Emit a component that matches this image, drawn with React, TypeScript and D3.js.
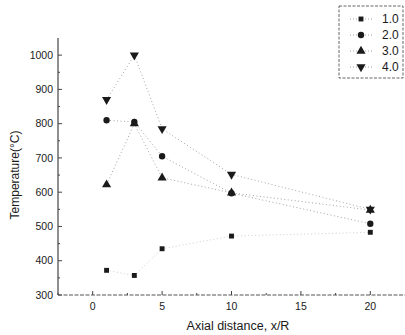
import React from "react";
import * as d3 from "d3";

// Axial distance positions (x/R)
const distances = [1, 3, 5, 10, 20];

// Temperature readings per series (°C)
const series10 = [372, 357, 435, 472, 483];
const series20 = [810, 805, 705, 597, 508];
const series30 = [622, 800, 642, 598, 548];
const series40 = [870, 1000, 785, 652, 550];

const seriesNames = ["1.0", "2.0", "3.0", "4.0"];
const seriesValues = [series10, series20, series30, series40];
const symbolTypes = [d3.symbolSquare, d3.symbolCircle, d3.symbolTriangle, d3.symbolTriangle];

const yTicks = [300, 400, 500, 600, 700, 800, 900, 1000];
const yMinor = [350, 450, 550, 650, 750, 850, 950];
const xTicks = [0, 5, 10, 15, 20];
const xMinor = [-2.5, 2.5, 7.5, 12.5, 17.5];

const W = 405;
const H = 335;

export default function App() {
  const x = d3.scaleLinear().domain([-2.5, 22.5]).range([58, 405]);
  const y = d3.scaleLinear().domain([300, 1050]).range([295, 38]);

  const line = d3
    .line<number>()
    .x((_, i) => x(distances[i]))
    .y((v) => y(v));

  const sizes = [24, 32, 36, 36];

  const symbolPath = (k: number) => d3.symbol().type(symbolTypes[k]).size(sizes[k])()!;

  const font = "'Liberation Sans', Arial, sans-serif";
  const ink = "#1a1a1a";

  return (
    <svg
      width={W}
      height={H}
      style={{ position: "absolute", left: 0, top: 0, background: "#fff" }}
      fontFamily={font}
    >
      {/* series lines */}
      {seriesValues.map((vals, k) => (
        <path
          key={"l" + k}
          d={line(vals)!}
          fill="none"
          stroke={k === 0 ? "#c8c8c8" : "#9a9a9a"}
          strokeWidth={0.9}
          strokeDasharray="1 2.5"
        />
      ))}

      {/* markers */}
      {seriesValues.map((vals, k) =>
        vals.map((v, i) => (
          <path
            key={"m" + k + "-" + i}
            d={symbolPath(k)}
            transform={`translate(${x(distances[i])},${y(v)})${k === 3 ? " rotate(180)" : ""}`}
            fill={ink}
          />
        ))
      )}

      {/* y axis */}
      <line x1={x(-2.5)} x2={x(-2.5)} y1={y(1050)} y2={y(300)} stroke="#444" strokeWidth={1.2} />
      {yTicks.map((t) => (
        <g key={"yt" + t}>
          <line x1={x(-2.5)} x2={x(-2.5) + 4} y1={y(t)} y2={y(t)} stroke="#444" />
          <text x={53} y={y(t)} dy="0.35em" textAnchor="end" fontSize={10.5} fill={ink}>
            {t}
          </text>
        </g>
      ))}
      {yMinor.map((t) => (
        <line key={"ym" + t} x1={x(-2.5)} x2={x(-2.5) + 2} y1={y(t)} y2={y(t)} stroke="#444" />
      ))}

      {/* x axis */}
      <line x1={x(-2.5)} x2={x(22.5)} y1={y(300)} y2={y(300)} stroke="#555" strokeWidth={1} strokeDasharray="4 1.5" />
      {xTicks.map((t) => (
        <g key={"xt" + t}>
          <line x1={x(t)} x2={x(t)} y1={y(300)} y2={y(300) - 4} stroke="#444" />
          <text x={x(t)} y={y(300) + 15} textAnchor="middle" fontSize={10.5} fill={ink}>
            {t}
          </text>
        </g>
      ))}
      {xMinor.map((t) => (
        <line key={"xm" + t} x1={x(t)} x2={x(t)} y1={y(300)} y2={y(300) - 2} stroke="#444" />
      ))}

      {/* axis titles */}
      <text
        transform={`translate(19,175) rotate(-90)`}
        textAnchor="middle"
        fontSize={12}
        fill={ink}
      >
        Temperature(°C)
      </text>
      <text x={238} y={330} textAnchor="middle" fontSize={12.5} fill={ink}>
        Axial distance, x/R
      </text>

      {/* legend */}
      <rect x={339} y={6} width={64} height={72} fill="#fff" stroke="#555" strokeWidth={0.9} strokeDasharray="3 1.5" />
      {seriesNames.map((name, k) => {
        const ly = 19 + k * 16;
        return (
          <g key={"lg" + k}>
            <line x1={350} x2={374} y1={ly} y2={ly} stroke="#999" strokeWidth={0.9} strokeDasharray="1 2" />
            <path
              d={symbolPath(k)}
              transform={`translate(361,${ly})${k === 3 ? " rotate(180)" : ""}`}
              fill={ink}
            />
            <text x={382} y={ly} dy="0.36em" fontSize={12} fill={ink}>
              {name}
            </text>
          </g>
        );
      })}
    </svg>
  );
}
